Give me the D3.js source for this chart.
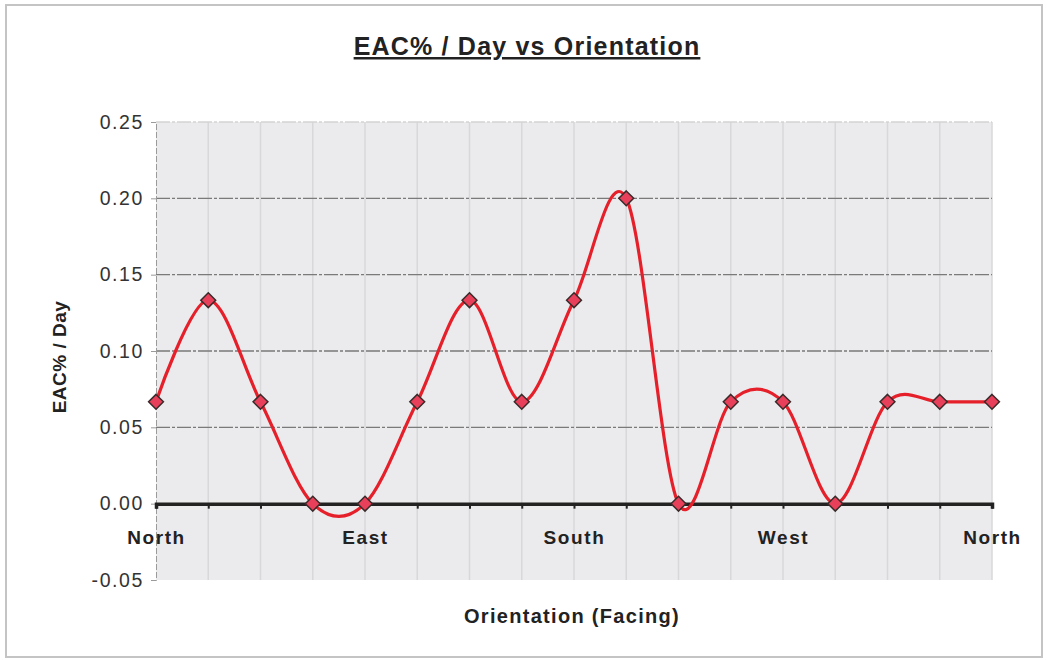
<!DOCTYPE html>
<html><head><meta charset="utf-8">
<script src="https://cdn.jsdelivr.net/npm/d3@7"></script>
<style>body{margin:0;background:#fff;}svg{display:block;font-family:"Liberation Sans",Arial,sans-serif;}</style>
</head><body>
<svg id="c" width="1047" height="660"></svg>
<script>
const categories = ["North","","","","East","","","","South","","","","West","","","","North"];
const values = [0.0667,0.1333,0.0667,0,0,0.0667,0.1333,0.0667,0.1333,0.2,0,0.0667,0.0667,0,0.0667,0.0667,0.0667];
const yTicks = [-0.05,0,0.05,0.10,0.15,0.20,0.25];
const title = "EAC% / Day vs Orientation";
const yTitle = "EAC% / Day";
const xTitle = "Orientation (Facing)";

const svg = d3.select("#c");
const L=156, R=992, T=122, B=580;
const x = d3.scaleLinear().domain([0, categories.length-1]).range([L, R]);
const y = d3.scaleLinear().domain([-0.05,0.25]).range([B, T]);

// outer frame
svg.append("rect").attr("x",6).attr("y",5).attr("width",1036).attr("height",652)
  .attr("fill","#fff").attr("stroke","#c4c4c4").attr("stroke-width",2);

// plot background
svg.append("rect").attr("x",L).attr("y",T).attr("width",R-L).attr("height",B-T).attr("fill","#ebebed");

// vertical gridlines
svg.append("g").selectAll("line").data(d3.range(1,categories.length)).join("line")
  .attr("x1",d=>x(d)).attr("x2",d=>x(d)).attr("y1",T).attr("y2",B)
  .attr("stroke","#d8d8da").attr("stroke-width",1.5);

// horizontal gridlines
svg.append("g").selectAll("line").data(yTicks.filter(v=>v>0.001)).join("line")
  .attr("x1",L).attr("x2",R).attr("y1",d=>y(d)).attr("y2",d=>y(d))
  .attr("stroke",d=>d>0.24?"#d4d4d4":"#7a7a7a").attr("stroke-width",1.3).attr("stroke-dasharray","14,2,3,2");

// y axis
const fmt = d3.format(".2f");
const yAxis = d3.axisLeft(y).tickValues(yTicks).tickFormat(d=>fmt(d).replace("\u2212","-")).tickSize(5).tickPadding(7);
const ga = svg.append("g").attr("transform",`translate(${L},0)`).call(yAxis);
ga.select(".domain").attr("stroke","#9a9a9a").attr("stroke-dasharray","6,2");
ga.selectAll(".tick line").attr("stroke","#9a9a9a");
ga.selectAll("text").attr("font-size",19.5).attr("letter-spacing","1.6px").attr("fill","#333");

// zero axis
const xAxis = d3.axisBottom(x).tickValues(d3.range(categories.length)).tickFormat(i=>categories[i]).tickSize(5).tickPadding(22);
const gx = svg.append("g").attr("transform",`translate(0,${y(0)})`).call(xAxis);
gx.select(".domain").attr("stroke","#222").attr("stroke-width",3.5);
gx.selectAll(".tick line").attr("stroke","#222").attr("stroke-width",2);
gx.selectAll("text").attr("font-size",19).attr("letter-spacing","1.6px").attr("font-weight","bold").attr("fill","#222");

// line
const line = d3.line().x((d,i)=>x(i)).y(d=>y(d)).curve(d3.curveCardinal.tension(0));
svg.append("path").datum(values).attr("d",line).attr("fill","none")
  .attr("stroke","#e5202a").attr("stroke-width",3.2);

// markers
svg.append("g").selectAll("path").data(values).join("path")
  .attr("transform",(d,i)=>`translate(${x(i)},${y(d)})`)
  .attr("d",d3.symbol(d3.symbolDiamond2,140))
  .attr("fill","#e8405a").attr("stroke","#3a2a2a").attr("stroke-width",1.5);

// titles
svg.append("text").attr("x",527).attr("y",55).attr("text-anchor","middle")
  .attr("font-size",25).attr("letter-spacing","1.2px").attr("font-weight","bold").attr("fill","#222")
  .attr("text-decoration","underline").text(title);
svg.append("text").attr("transform","translate(66,357) rotate(-90)").attr("text-anchor","middle")
  .attr("font-size",19).attr("letter-spacing","0.5px").attr("font-weight","bold").attr("fill","#222").text(yTitle);
svg.append("text").attr("x",572).attr("y",623).attr("text-anchor","middle")
  .attr("font-size",20).attr("letter-spacing","1.3px").attr("font-weight","bold").attr("fill","#222").text(xTitle);
</script>
</body></html>
